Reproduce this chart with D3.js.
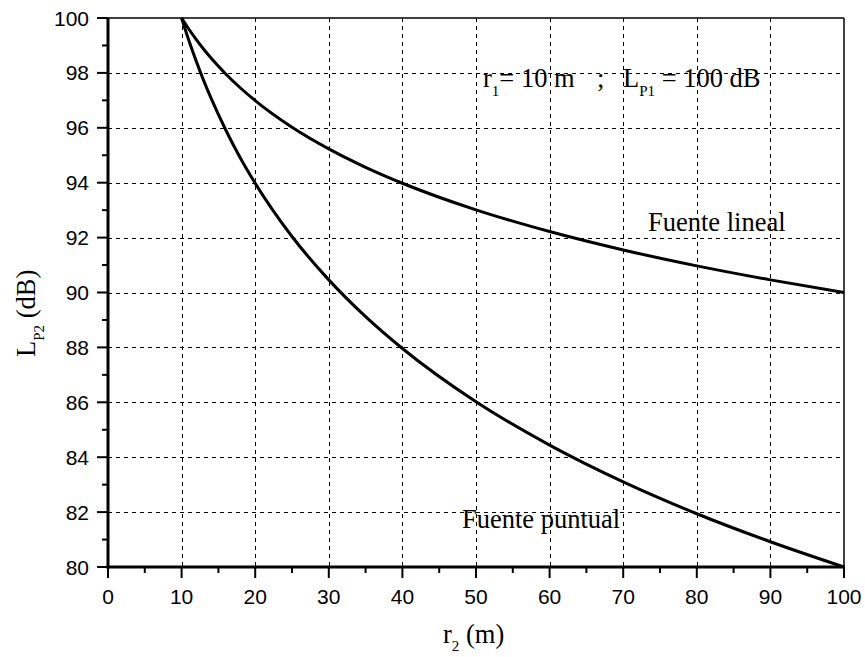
<!DOCTYPE html>
<html><head><meta charset="utf-8">
<script src="https://cdn.jsdelivr.net/npm/d3@7"></script>
<style>body{margin:0;background:#fff} text{white-space:pre}</style>
</head><body><svg id="c" width="865" height="657"></svg>
<script>
const r2 = [10, 11, 12, 13, 14, 16, 18, 20, 25, 30, 35, 40, 50, 60, 70, 80, 90, 100];
const puntual = [100, 99.17, 98.42, 97.72, 97.08, 95.92, 94.89, 93.98, 92.04, 90.46, 89.12, 87.96, 86.02, 84.44, 83.10, 81.94, 80.92, 80];
const lineal = [100, 99.59, 99.21, 98.86, 98.54, 97.96, 97.45, 96.99, 96.02, 95.23, 94.56, 93.98, 93.01, 92.22, 91.55, 90.97, 90.46, 90];
const xTicks = [0,10,20,30,40,50,60,70,80,90,100];
const yTicks = [80,82,84,86,88,90,92,94,96,98,100];
const xMinorTicks = [5,15,25,35,45,55,65,75,85,95];
const yMinorTicks = [81,83,85,87,89,91,93,95,97,99];

const svg = d3.select("#c");
const L = 108, R = 844, T = 18, B = 567;
const x = d3.scaleLinear().domain([0,100]).range([L,R]);
const y = d3.scaleLinear().domain([80,100]).range([B,T]);

// grid
const g = svg.append("g").attr("stroke","#000").attr("stroke-width",1).attr("stroke-dasharray","4,4");
xTicks.slice(1,-1).forEach(v=>g.append("line").attr("x1",Math.round(x(v))+0.5).attr("x2",Math.round(x(v))+0.5).attr("y1",T).attr("y2",B));
yTicks.slice(1,-1).forEach(v=>g.append("line").attr("x1",L).attr("x2",R).attr("y1",Math.round(y(v))+0.5).attr("y2",Math.round(y(v))+0.5));

// frame top/right
svg.append("line").attr("x1",L).attr("x2",R).attr("y1",T).attr("y2",T).attr("stroke","#000").attr("stroke-width",1.5);
svg.append("line").attr("x1",R).attr("x2",R).attr("y1",T).attr("y2",B).attr("stroke","#000").attr("stroke-width",1.5);

const sans = "Liberation Sans, Arial, sans-serif";
const tk = svg.append("g").attr("stroke","#000").attr("stroke-width",2);
xTicks.forEach(v=>tk.append("line").attr("x1",x(v)).attr("x2",x(v)).attr("y1",B).attr("y2",B+11));
xMinorTicks.forEach(v=>tk.append("line").attr("x1",x(v)).attr("x2",x(v)).attr("y1",B).attr("y2",B+6));
yTicks.forEach(v=>tk.append("line").attr("y1",y(v)).attr("y2",y(v)).attr("x1",L).attr("x2",L-11));
yMinorTicks.forEach(v=>tk.append("line").attr("y1",y(v)).attr("y2",y(v)).attr("x1",L).attr("x2",L-6));

svg.append("g").selectAll("text").data(xTicks).join("text")
  .attr("x",d=>x(d)).attr("y",604).attr("text-anchor","middle")
  .attr("font-family",sans).attr("font-size",21).text(d=>d);
svg.append("g").selectAll("text").data(yTicks).join("text")
  .attr("x",89).attr("y",d=>y(d)+7.5).attr("text-anchor","end")
  .attr("font-family",sans).attr("font-size",21).text(d=>d);

// axis lines
svg.append("line").attr("x1",L).attr("x2",L).attr("y1",T).attr("y2",B+1.5).attr("stroke","#000").attr("stroke-width",3);
svg.append("line").attr("x1",L-1.5).attr("x2",R+1).attr("y1",B).attr("y2",B).attr("stroke","#000").attr("stroke-width",3);

// curves
const line = d3.line().x(d=>x(d[0])).y(d=>y(d[1])).curve(d3.curveMonotoneX);
[puntual, lineal].forEach(arr=>{
  svg.append("path").datum(r2.map((r,i)=>[r,arr[i]])).attr("d",line)
    .attr("fill","none").attr("stroke","#000").attr("stroke-width",3);
});

const serif = "Liberation Serif, Times New Roman, serif";
function txt(xp, yp, parts, anchor, subDy){
  const sd = subDy || 9;
  const t = svg.append("text").attr("x",xp).attr("y",yp).attr("font-family",serif).attr("font-size",26.5).attr("fill","#000").attr("text-anchor",anchor||"start");
  parts.forEach(p=>{
    const ts = t.append("tspan").text(p[0]);
    if(p[1]==="sub") ts.attr("font-size",15).attr("dy",sd);
    if(p[1]==="back") ts.attr("dy",-sd);
  });
  return t;
}
txt(648, 231, [["Fuente lineal"]]);
txt(462, 528, [["Fuente puntual"]]);
txt(483, 87, [["r"],["1","sub"],["= 10 m","back"]]);
txt(597, 87, [[";"]]);
txt(623, 87, [["L"],["P1","sub"],[" = 100 dB","back"]]);
txt(443, 643, [["r"],["2","sub"],[" (m)","back"]], "start", 8);
const yl = txt(0, 0, [["L"],["P2","sub"],[" (dB)","back"]], "start");
yl.attr("transform","translate(35,357) rotate(-90)");
</script></body></html>
